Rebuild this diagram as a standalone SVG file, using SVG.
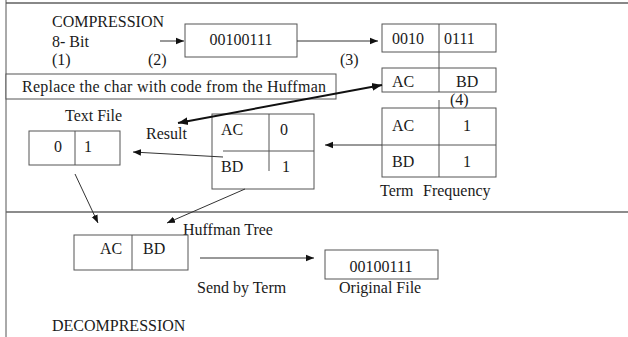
<svg xmlns="http://www.w3.org/2000/svg" width="628" height="337" viewBox="0 0 628 337">
<defs>
<style>
text{font-family:"Liberation Serif","Times New Roman",serif;font-size:16px;fill:#1a1a1a}
.b{fill:#fff;stroke:#555;stroke-width:1}
.l{stroke:#555;stroke-width:1;fill:none}
.c{stroke:#333;stroke-width:1;fill:none}
.t{stroke:#111;stroke-width:2;fill:none}
</style>
<marker id="ah" viewBox="0 0 10 10" refX="10" refY="5" markerWidth="8" markerHeight="8" markerUnits="userSpaceOnUse" orient="auto-start-reverse"><path d="M0,1 L10,5 L0,9 z" fill="#111"/></marker>
<marker id="ahb" viewBox="0 0 10 10" refX="10" refY="5" markerWidth="5" markerHeight="5" orient="auto-start-reverse"><path d="M0,1 L10,5 L0,9 z" fill="#111"/></marker>
</defs>
<rect width="628" height="337" fill="#fff"/>
<g id="frame">
<line x1="6" y1="3" x2="628" y2="3" stroke="#888" stroke-width="2"/>
<line x1="6" y1="0" x2="6" y2="337" class="l"/>
<line x1="6" y1="212" x2="628" y2="212" stroke="#666" stroke-width="1.5"/>
</g>
<g id="labels">
<text x="52" y="27">COMPRESSION</text>
<text x="52" y="47">8- Bit</text>
<text x="52" y="65">(1)</text>
<text x="148" y="65">(2)</text>
<text x="340" y="65">(3)</text>
<text x="450" y="105">(4)</text>
<text x="65" y="121">Text File</text>
<text x="146" y="139">Result</text>
<text x="380" y="196">Term</text>
<text x="423" y="196">Frequency</text>
<text x="183" y="235">Huffman Tree</text>
<text x="197" y="293">Send by Term</text>
<text x="339" y="293">Original File</text>
<text x="52" y="331">DECOMPRESSION</text>
</g>
<g id="replace">
<rect x="6" y="74" width="330" height="25" class="b"/>
<text x="22" y="92" textLength="304" lengthAdjust="spacing">Replace the char with code from the Huffman</text>
</g>
<g id="byte">
<rect x="185" y="24" width="112" height="33" class="b"/>
<text x="241" y="45" text-anchor="middle">00100111</text>
</g>
<g id="split">
<rect x="382" y="24" width="114" height="28" class="b"/>
<line x1="439" y1="24" x2="439" y2="52" class="l"/>
<text x="392" y="44">0010</text>
<text x="444" y="44">0111</text>
</g>
<g id="terms">
<rect x="382" y="68" width="114" height="24" class="b"/>
<line x1="439" y1="52" x2="439" y2="92" class="l"/>
<text x="392" y="87">AC</text>
<text x="456" y="87">BD</text>
</g>
<g id="freq">
<rect x="382" y="108" width="114" height="69" class="b"/>
<line x1="439" y1="100" x2="439" y2="177" class="l"/>
<line x1="382" y1="145" x2="496" y2="145" class="l"/>
<text x="392" y="131">AC</text>
<text x="463" y="131">1</text>
<text x="392" y="167">BD</text>
<text x="463" y="167">1</text>
</g>
<g id="code">
<rect x="212" y="114" width="102" height="75" class="b"/>
<line x1="223" y1="151" x2="314" y2="151" class="l"/>
<line x1="269" y1="114" x2="269" y2="171" class="l"/>
<text x="221" y="135">AC</text>
<text x="280" y="135">0</text>
<text x="221" y="172">BD</text>
<text x="282" y="172">1</text>
</g>
<g id="textfile">
<rect x="29" y="131" width="91" height="34" class="b"/>
<line x1="75" y1="131" x2="75" y2="165" class="l"/>
<text x="54" y="152">0</text>
<text x="84" y="152">1</text>
</g>
<g id="tree">
<rect x="74" y="235" width="114" height="35" class="b"/>
<line x1="132" y1="235" x2="132" y2="270" class="l"/>
<text x="100" y="254">AC</text>
<text x="143" y="254">BD</text>
</g>
<g id="original">
<rect x="325" y="250" width="113" height="29" class="b"/>
<text x="381" y="272" text-anchor="middle">00100111</text>
</g>
<g id="connectors">
<line x1="160" y1="41" x2="184" y2="41" class="c" marker-end="url(#ah)"/>
<line x1="297" y1="41" x2="378" y2="41" class="c" marker-end="url(#ah)"/>
<line x1="178" y1="123" x2="382" y2="85" class="t" marker-start="url(#ahb)" marker-end="url(#ahb)"/>
<line x1="223" y1="157" x2="133" y2="152" class="c" marker-end="url(#ah)"/>
<line x1="382" y1="145" x2="325" y2="145" class="c" marker-end="url(#ah)"/>
<line x1="75" y1="174" x2="98" y2="223" class="c" marker-end="url(#ah)"/>
<line x1="245" y1="189" x2="167" y2="223" class="c" marker-end="url(#ah)"/>
<line x1="200" y1="258" x2="314" y2="258" class="c" marker-end="url(#ah)"/>
</g>
</svg>
